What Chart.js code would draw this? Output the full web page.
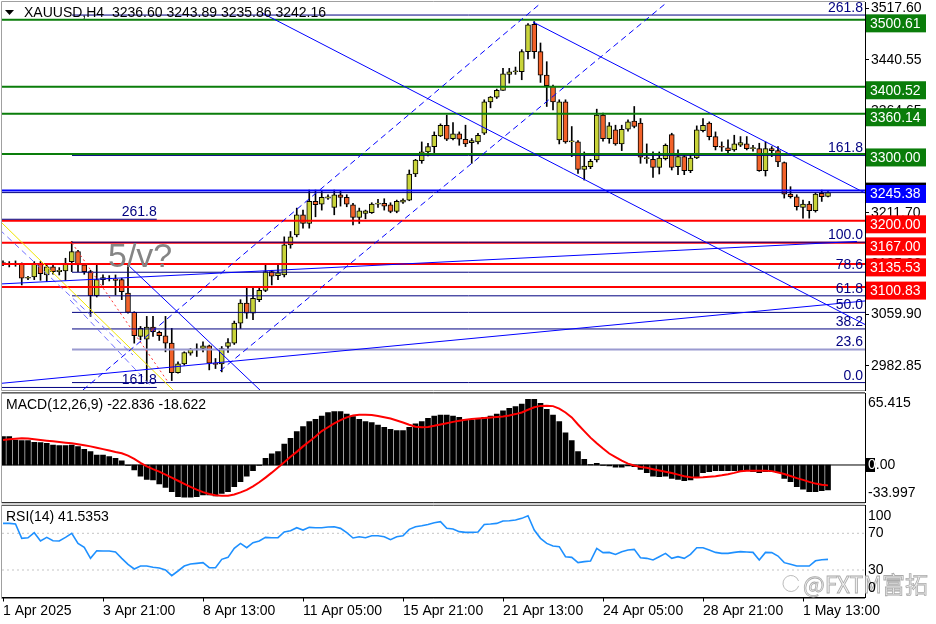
<!DOCTYPE html>
<html>
<head>
<meta charset="utf-8">
<title>XAUUSD,H4</title>
<script src="https://cdn.jsdelivr.net/npm/chart.js@4.4.1/dist/chart.umd.min.js"></script>
<style>
  body { margin: 0; background: #fff; }
  #wrap { position: relative; width: 936px; height: 624px; }
  canvas { position: absolute; left: 0; }
</style>
</head>
<body>
<div id="wrap">
  <canvas id="price" width="936" height="392" style="top:0"></canvas>
  <canvas id="macd" width="936" height="112" style="top:392px"></canvas>
  <canvas id="rsi" width="936" height="120" style="top:504px"></canvas>
</div>
<script>
// ---- data ----
const tickBars = [0, 16, 32, 48, 64, 80, 96, 112, 128];
const tickLabels = ['1 Apr 2025', '3 Apr 21:00', '8 Apr 13:00', '11 Apr 05:00', '15 Apr 21:00',
  '21 Apr 13:00', '24 Apr 05:00', '28 Apr 21:00', '1 May 13:00'];

const opens = [3137,3135,3136,3135,3114,3116,3135,3119,3131,3124,3125,3139,3154,3134,3124,3088,3112,3114,3113,3112,
  3092,3063,3027,3023,3041,3033,3028,3017,2973,2986,3002,3008,3009,3013,2987,2986,3012,3017,3047,3077,
  3062,3082,3096,3124,3118,3119,3164,3179,3209,3196,3229,3225,3234,3220,3239,3235,3224,3205,3211,3212,
  3225,3226,3224,3214,3228,3231,3270,3290,3303,3311,3327,3343,3323,3330,3322,3317,3318,3331,3378,3385,
  3395,3419,3423,3423,3453,3494,3453,3418,3401,3321,3378,3318,3318,3277,3281,3291,3358,3323,3336,3315,
  3337,3349,3346,3293,3292,3280,3293,3329,3281,3296,3275,3294,3335,3346,3326,3311,3309,3306,3313,3315,
  3308,3308,3275,3308,3305,3287,3240,3236,3220,3225,3215,3241,3236.60];
const highs = [3140,3139,3140,3137,3117,3139,3139,3134,3134,3130,3144,3169,3156,3136,3126,3136,3119,3118,3119,3114,
  3134,3064,3042,3057,3057,3035,3057,3039,2989,3004,3009,3016,3019,3014,2994,3012,3024,3050,3082,3101,
  3101,3101,3134,3126,3136,3176,3184,3219,3216,3246,3246,3244,3239,3246,3245,3239,3226,3219,3216,3227,
  3232,3233,3227,3231,3233,3276,3292,3318,3316,3333,3345,3358,3347,3333,3343,3323,3331,3381,3386,3397,
  3428,3428,3430,3456,3495,3498,3466,3438,3403,3381,3381,3341,3320,3303,3292,3367,3361,3347,3343,3343,
  3351,3371,3353,3315,3303,3303,3315,3331,3306,3300,3298,3342,3353,3348,3333,3318,3321,3328,3326,3326,
  3313,3316,3318,3311,3311,3288,3251,3239,3231,3229,3242,3246,3243.89];
const lows = [3133,3131,3132,3104,3112,3112,3111,3109,3120,3119,3111,3124,3124,3120,3057,3086,3104,3110,3089,3082,
  3062,3017,3022,2957,3027,3021,3004,2961,2972,2984,2999,2997,3004,2977,2979,2974,3003,3015,3039,3054,
  3052,3079,3094,3104,3112,3116,3159,3176,3189,3189,3206,3216,3232,3209,3222,3221,3194,3196,3203,3211,
  3220,3216,3212,3212,3226,3230,3266,3286,3297,3302,3326,3320,3321,3313,3311,3286,3315,3329,3369,3383,
  3395,3406,3419,3411,3442,3443,3407,3371,3366,3315,3316,3296,3271,3261,3278,3288,3319,3316,3313,3305,
  3334,3339,3286,3286,3265,3270,3291,3276,3269,3269,3272,3293,3333,3321,3306,3304,3300,3304,3311,3306,
  3304,3274,3267,3296,3281,3234,3234,3216,3204,3204,3213,3229,3235.86];
const closes = [3136,3136,3135,3114,3115,3135,3121,3131,3124,3126,3136,3154,3134,3124,3088,3112,3115,3113,3111,3094,
  3063,3028,3039,3041,3034,3028,3017,2973,2986,3003,3008,3007,3013,2987,2985,3009,3018,3047,3077,3062,
  3084,3096,3124,3117,3122,3164,3176,3209,3196,3229,3224,3235,3236,3239,3235,3225,3205,3215,3215,3225,
  3226,3222,3214,3229,3231,3270,3291,3303,3311,3328,3343,3322,3330,3322,3315,3320,3328,3378,3385,3395,
  3420,3423,3424,3453,3493,3453,3418,3402,3378,3378,3318,3318,3277,3282,3289,3358,3323,3342,3315,3337,
  3348,3341,3295,3294,3280,3294,3313,3280,3296,3275,3294,3336,3343,3326,3311,3310,3305,3315,3317,3308,
  3308,3275,3308,3305,3288,3240,3236,3221,3225,3215,3240,3236,3242.16];

const macdHist = [25.9,25.9,22.8,22.2,22.2,20.7,20.4,19.8,18.3,17.7,17.7,18.3,16.8,14.3,12.2,9.1,9.1,7.6,6.1,3.7,
  -0.5,-4.6,-10.1,-13.1,-13.7,-17.4,-20.4,-24.4,-28.9,-29.5,-29.5,-28.9,-27.4,-27.4,-28.3,-25.9,-24.4,-19.8,-15.2,-10.1,
  -5.2,-0.3,6.1,10.1,12.2,19.2,24.4,30.5,35.0,39.6,41.7,44.8,47.8,48.7,48.7,46.6,44.2,41.7,39.6,38.7,
  36.5,34.4,32.6,31.4,31.4,34.4,37.5,39.6,42.6,44.8,45.7,45.7,44.8,43.6,41.7,41.1,41.7,43.6,44.8,46.6,
  49.6,51.8,53.3,55.7,60.0,60.0,56.3,50.9,45.7,39.6,29.5,22.2,12.2,5.2,0.3,1.5,-0.3,-0.9,-2.1,-2.1,
  -0.9,-1.5,-4.0,-7.0,-10.1,-10.7,-10.1,-12.2,-13.1,-14.3,-13.7,-11.3,-7.0,-6.1,-5.2,-5.2,-5.2,-5.2,-5.2,-5.2,
  -6.1,-7.0,-6.1,-6.1,-7.0,-12.2,-15.2,-19.8,-22.2,-24.4,-24.4,-23.5,-22.836];
const macdSignal = [22.8,23.5,24.0,24.4,24.2,23.5,22.8,22.2,21.6,21.0,20.4,19.8,18.9,18.0,17.0,15.8,14.5,13.2,11.8,10.7,
  8.5,5.5,2.0,-1.2,-3.8,-6.1,-8.8,-11.5,-14.4,-17.2,-20.0,-22.5,-24.8,-26.5,-27.6,-28.2,-28.0,-27.0,-25.0,-22.8,
  -19.5,-15.8,-11.5,-7.0,-2.2,2.5,7.5,12.0,17.0,21.5,26.0,31.0,34.5,38.0,41.0,43.5,45.2,45.8,45.8,45.7,
  44.8,43.6,42.4,40.6,38.8,36.8,35.0,34.4,34.8,35.8,37.0,38.2,39.4,40.5,41.4,42.0,42.5,43.0,43.4,43.9,
  44.4,45.3,46.5,48.0,50.5,52.8,54.0,54.2,53.8,51.5,48.0,43.5,37.0,31.0,25.0,19.8,15.0,10.5,7.2,4.0,
  1.2,-0.5,-1.8,-2.6,-3.8,-5.0,-6.1,-7.4,-8.8,-10.2,-11.2,-11.4,-11.3,-10.8,-10.2,-9.4,-8.4,-7.2,-5.8,-5.3,
  -5.2,-5.2,-5.2,-5.6,-6.8,-8.2,-10.0,-12.0,-13.6,-15.4,-17.0,-18.0,-18.622];
const rsiValues = [80.8,80.8,80.1,64.5,65.1,70.7,61.6,65.6,61.9,61.6,65.6,69.9,59.0,54.7,42.7,51.0,50.7,50.7,49.6,42.7,
  36.1,31.1,34.3,34.3,32.9,32.2,30.0,23.8,28.9,34.3,36.5,37.2,38.0,32.5,32.5,41.6,43.8,53.6,59.0,54.3,
  59.8,61.6,65.6,65.2,65.2,71.4,72.8,76.1,73.5,76.5,76.1,76.1,76.8,77.2,75.4,70.7,64.9,66.3,65.2,67.4,
  67.4,66.3,63.0,66.3,67.4,74.3,77.2,78.3,79.7,81.6,82.7,75.4,74.7,71.8,71.0,71.0,71.4,79.7,80.1,80.8,
  83.4,83.7,84.5,86.3,89.2,73.5,64.5,59.0,56.1,55.4,44.5,43.8,38.0,39.1,39.8,53.6,48.9,49.2,47.0,50.0,
  51.8,52.5,43.4,42.7,40.9,44.5,48.1,42.7,44.5,42.7,47.0,54.3,54.3,51.8,49.2,48.1,48.1,49.2,50.0,49.6,
  49.2,40.9,49.2,48.9,45.2,38.0,36.2,34.3,34.3,34.3,40.0,41.2,41.5353];

const priceTicks = [3517.60, 3440.55, 3364.65, 3288.75, 3211.70, 3135.80, 3059.90, 2982.85];
const greenLevels = [3500.61, 3400.52, 3360.14, 3300.00];
const redLevels = [3200.00, 3167.00, 3135.53, 3100.83];
const blueLevel = 3245.38;
const bidPrice = 3242.16;
const fibRatios = [0, 23.6, 38.2, 50, 61.8, 78.6, 100, 161.8, 261.8];
const fibLow = 2958, fibHigh = 3168, fibStartBar = 11.04;
const fib2Ratios = ['261.8', '161.8'];
const fib2Prices = [3202.3, 2950.7];
const fib2EndBar = 24.6;
// trend lines: [bar1, price1, bar2, price2]
const solidTrends = [[41.44, 3510.9, 137.92, 3044.9], [84.8, 3497.4, 137.92, 3241.6],
  [-0.48, 2956.7, 137.92, 3080.1], [-0.48, 3105.5, 136.64, 3169.1], [20, 3134.0, 41.44, 2944.0]];
const dashedTrends = [[12.8, 2947.0, 86.08, 3525.8], [34.72, 2975.4, 105.92, 3524.3]];
const lightDashedTrends = [[-0.48, 3186.3, 20.8, 2999.3], [10.72, 3081.6, 23.52, 2954.4]];
const yellowTrend = [-0.16, 3196.7, 27.52, 2944.0];
const redDottedTrend = [11.04, 3166.8, 26.4, 2958.9];

const macdMax = 65.415, macdMin = -33.997;
const rsiLevels = [70, 30];
const rsiAxisLabels = [100, 70, 30, 0];

const titleText = 'XAUUSD,H4  3236.60 3243.89 3235.86 3242.16';
const macdTitle = 'MACD(12,26,9) -22.836 -18.622';
const rsiTitle = 'RSI(14) 41.5353';
const waveNote = '5/v?';

// ---- drawing ----
const FONT = "'Liberation Sans', Arial, sans-serif";
const X_MIN = -0.16, X_MAX = 137.92;
const P_MIN = 2946.9, P_MAX = 3527.3;
const BULL = '#c9d43a', BEAR = '#f2622a';

function seg(pts, color, width, dash) {
  return { type: 'line', data: [{ x: pts[0], y: pts[1] }, { x: pts[2], y: pts[3] }],
    borderColor: color, borderWidth: width, borderDash: dash || [], pointRadius: 0, fill: false, order: 0 };
}
function level(y, color, width, x0, x1) {
  return seg([x0 === undefined ? X_MIN : x0, y, x1 === undefined ? X_MAX : x1, y], color, width);
}
const fibPrice = r => fibLow + (fibHigh - fibLow) * r / 100;

const priceSets = [];
solidTrends.forEach(t => priceSets.push(seg(t, '#0000ff', 1)));
dashedTrends.forEach(t => priceSets.push(seg(t, '#0000ff', 1, [6, 4])));
lightDashedTrends.forEach(t => priceSets.push(seg(t, '#6f6fff', 1, [6, 4])));
priceSets.push(seg(yellowTrend, '#f0e400', 1));
priceSets.push(seg(redDottedTrend, '#ff3030', 1, [2, 3]));
greenLevels.forEach(v => priceSets.push(level(v, '#0a7d0a', 2)));
fibRatios.forEach(r => priceSets.push(level(fibPrice(r), r === 23.6 ? '#9a9ad0' : '#000080', r === 23.6 ? 2 : 1, fibStartBar)));
fib2Prices.forEach(v => priceSets.push(level(v, '#000080', 1, X_MIN, fib2EndBar)));
redLevels.forEach(v => priceSets.push(level(v, '#ff0000', 2)));
priceSets.push(level(bidPrice, '#000080', 1));
priceSets.push(level(blueLevel, '#0000ff', 2));
priceSets.push({ type: 'bar', data: opens.map((o, i) => ({ x: i, y: [o, closes[i]] })),
  backgroundColor: opens.map((o, i) => closes[i] >= o ? BULL : BEAR), borderColor: '#000', borderWidth: 1,
  borderSkipped: false, barThickness: 5, minBarLength: 1, grouped: false, order: 1 });
priceSets.push({ type: 'bar', data: lows.map((l, i) => ({ x: i, y: [l, highs[i]] })),
  backgroundColor: '#000', barThickness: 1, grouped: false, order: 2 });

function frame(ctx, a, top, bottom) {
  ctx.strokeStyle = top; ctx.lineWidth = 1;
  ctx.beginPath(); ctx.moveTo(a.left - 0.5, a.top - 0.5); ctx.lineTo(a.right, a.top - 0.5); ctx.stroke();
  ctx.strokeStyle = bottom;
  ctx.beginPath(); ctx.moveTo(a.left - 0.5, a.bottom + 0.5); ctx.lineTo(a.right, a.bottom + 0.5); ctx.stroke();
  ctx.strokeStyle = '#a0a0a0';
  ctx.beginPath(); ctx.moveTo(a.left - 0.5, a.top - 0.5); ctx.lineTo(a.left - 0.5, a.bottom + 0.5); ctx.stroke();
}

const priceOverlay = {
  id: 'priceOverlay',
  afterDraw(chart) {
    const { ctx, chartArea: a, scales: { x, y } } = chart;
    ctx.save();
    frame(ctx, a, '#a0a0a0', '#a0a0a0');
    ctx.font = '14px ' + FONT;
    ctx.textBaseline = 'alphabetic';
    ctx.fillStyle = '#000080';
    ctx.textAlign = 'right';
    fibRatios.forEach(r => ctx.fillText(r.toFixed(1), a.right - 2, y.getPixelForValue(fibPrice(r)) - 3));
    fib2Prices.forEach((v, i) => ctx.fillText(fib2Ratios[i], x.getPixelForValue(fib2EndBar), y.getPixelForValue(v) - 3));
    // wave note
    ctx.textAlign = 'left';
    ctx.fillStyle = '#858585';
    ctx.font = '34px ' + FONT;
    ctx.fillText(waveNote, x.getPixelForValue(16.8), y.getPixelForValue(3131));
    // title
    ctx.fillStyle = '#000';
    ctx.beginPath(); ctx.moveTo(5, 10); ctx.lineTo(14, 10); ctx.lineTo(9.5, 15); ctx.closePath(); ctx.fill();
    ctx.font = '14px ' + FONT;
    ctx.textBaseline = 'middle';
    ctx.fillText(titleText, 24, 13);
    // price boxes on the axis
    const box = (v, bg, dy) => {
      const py = y.getPixelForValue(v);
      ctx.fillStyle = bg;
      ctx.fillRect(a.right + 1, py + dy, 60, 18);
      ctx.fillStyle = '#fff';
      ctx.fillText(v.toFixed(2), a.right + 5, py + dy + 9.5);
    };
    box(bidPrice, '#000', -10);
    greenLevels.forEach(v => box(v, '#0a7d0a', -5.5));
    box(blueLevel, '#0000ff', -5.5);
    redLevels.forEach(v => box(v, '#ff0000', -5.5));
    ctx.restore();
  }
};

function sideLabels(ctx, a, scale, values, texts) {
  ctx.font = '14px ' + FONT;
  ctx.textAlign = 'left';
  ctx.textBaseline = 'middle';
  ctx.fillStyle = '#000';
  values.forEach((v, i) => {
    const py = Math.min(Math.max(scale.getPixelForValue(v), a.top + 10), a.bottom - 9);
    ctx.fillText(texts[i], a.right + 3, py);
  });
}

const macdOverlay = {
  id: 'macdOverlay',
  afterDraw(chart) {
    const { ctx, chartArea: a, scales: { y } } = chart;
    ctx.save();
    frame(ctx, a, '#000', '#000');
    ctx.font = '14px ' + FONT;
    ctx.fillStyle = '#000';
    ctx.textBaseline = 'middle';
    ctx.fillText(macdTitle, 6, a.top + 12);
    const z = y.getPixelForValue(0);
    ctx.fillRect(a.right, z - 7, 10, 14);
    sideLabels(ctx, a, y, [macdMax, 0, macdMin], [macdMax.toFixed(3), '0.00', macdMin.toFixed(3)]);
    ctx.fillStyle = '#fff';
    ctx.fillText('0', a.right + 3, z);
    ctx.restore();
  }
};

const rsiOverlay = {
  id: 'rsiOverlay',
  afterDraw(chart) {
    const { ctx, chartArea: a, scales: { y } } = chart;
    ctx.save();
    frame(ctx, a, '#333', '#000');
    // watermark
    ctx.font = '23px "Noto Sans CJK SC", sans-serif';
    ctx.textBaseline = 'alphabetic';
    ctx.textAlign = 'left';
    ctx.fillStyle = 'rgba(238,238,238,0.9)';
    ctx.strokeStyle = '#aaaaaa';
    ctx.lineWidth = 0.8;
    ctx.fillText('@FXTM富拓', a.right - 62, a.bottom - 5);
    ctx.strokeText('@FXTM富拓', a.right - 62, a.bottom - 5);
    ctx.beginPath(); ctx.arc(a.right - 74, a.bottom - 14, 8, 0.3, Math.PI * 1.9); ctx.stroke();
    ctx.font = '14px ' + FONT;
    ctx.fillStyle = '#000';
    ctx.textBaseline = 'middle';
    ctx.fillText(rsiTitle, 6, a.top + 11);
    sideLabels(ctx, a, y, rsiAxisLabels, rsiAxisLabels.map(String));
    ctx.restore();
  }
};

const common = {
  responsive: false, animation: false, events: [],
  plugins: { legend: { display: false }, tooltip: { enabled: false } }
};
const yRight = (min, max, extra) => Object.assign({
  position: 'right', min, max, beginAtZero: false,
  afterFit: s => { s.width = 71; s.paddingTop = 0; s.paddingBottom = 0; },
  ticks: { display: false },
  grid: { display: false },
  border: { display: true, color: '#000', width: 1 }
}, extra || {});
const xHidden = { type: 'linear', min: X_MIN, max: X_MAX, display: false, offset: false };

new Chart(document.getElementById('price'), {
  type: 'bar',
  data: { datasets: priceSets },
  options: Object.assign({}, common, {
    layout: { padding: { left: 2, top: 2, bottom: 2, right: 0 } },
    scales: {
      x: xHidden,
      y: yRight(P_MIN, P_MAX, {
        afterBuildTicks: s => { s.ticks = priceTicks.map(v => ({ value: v })); },
        ticks: { display: true, autoSkip: false, padding: 2, color: '#000',
          font: { size: 14, family: FONT }, callback: v => v.toFixed(2) },
        grid: { display: true, drawOnChartArea: false, drawTicks: true, tickLength: 4, color: '#000' }
      })
    }
  }),
  plugins: [priceOverlay]
});

new Chart(document.getElementById('macd'), {
  type: 'bar',
  data: { datasets: [
    { type: 'line', data: macdSignal.map((v, i) => ({ x: i, y: v })), borderColor: '#ff0000', borderWidth: 2,
      pointRadius: 0, fill: false, order: 0 },
    level(0, '#000', 1),
    { type: 'bar', data: macdHist.map((v, i) => ({ x: i, y: v })), backgroundColor: '#000',
      barThickness: 5, grouped: false, order: 1 }
  ] },
  options: Object.assign({}, common, {
    layout: { padding: { left: 2, top: 1.4, bottom: 1.8, right: 0 } },
    scales: { x: xHidden, y: yRight(macdMin, macdMax) }
  }),
  plugins: [macdOverlay]
});

new Chart(document.getElementById('rsi'), {
  type: 'line',
  data: { datasets: [
    { data: rsiValues.map((v, i) => ({ x: i, y: v })), borderColor: '#1e90ff', borderWidth: 1.6,
      pointRadius: 0, fill: false, order: 0 },
    ...rsiLevels.map(v => Object.assign(level(v, '#c4c4c4', 1), { borderDash: [2, 3], order: 1 }))
  ] },
  options: Object.assign({}, common, {
    layout: { padding: { left: 2, top: 1.8, bottom: 0, right: 0 } },
    scales: {
      x: { type: 'linear', min: X_MIN, max: X_MAX, offset: false,
        afterFit: s => { s.height = 26.5; s.paddingLeft = 0; s.paddingRight = 0; },
        afterBuildTicks: s => { s.ticks = tickBars.map(v => ({ value: v })); },
        ticks: { autoSkip: false, maxRotation: 0, align: 'start', padding: 1, color: '#000',
          font: { size: 14, family: FONT }, callback: (v, i) => tickLabels[i] },
        grid: { display: true, drawOnChartArea: false, drawTicks: true, tickLength: 4, color: '#000', offset: false },
        border: { display: true, color: '#000', width: 1 } },
      y: yRight(0, 100)
    }
  }),
  plugins: [rsiOverlay]
});
</script>
</body>
</html>
